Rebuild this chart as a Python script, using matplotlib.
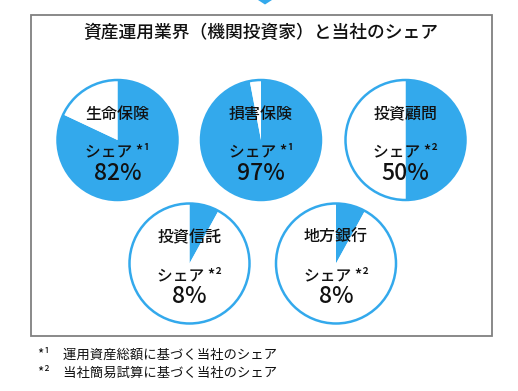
import numpy as np
import matplotlib.pyplot as plt
from matplotlib.patches import Rectangle, Circle, Polygon

plt.rcParams['font.family'] = ['Noto Sans CJK JP', 'DejaVu Sans']

# datos
categorias = ['生命保険', '損害保険', '投資顧問', '投資信託', '地方銀行']
shares = [82, 97, 50, 8, 8]
notas = ['¹', '¹', '²', '²', '²']
titulo = '資産運用業界（機関投資家）と当社のシェア'
pies_nota = ['*¹　運用資産総額に基づく当社のシェア',
             '*²　当社簡易試算に基づく当社のシェア']

W, H = 518, 391
azul = '#33a9ec'
negro = '#111111'

fig = plt.figure(figsize=(W / 100, H / 100), dpi=100)
ax = fig.add_axes([0, 0, 1, 1])

def py(y):
    # coordenada de pixel (desde arriba) a coordenada de datos
    return H - y

# centros de los circulos en pixeles
centros = [(117.5, 140), (261, 140), (405.5, 140), (189.5, 263.5), (336, 263.5)]
r = 60

# marco
ax.add_patch(Rectangle((31, py(336)), 461, 321, fill=False, edgecolor='#808080', lw=1.3))
# flecha de arriba
ax.add_patch(Polygon([(258, py(0)), (272, py(0)), (265, py(4.5))], closed=True,
                     facecolor=azul, edgecolor='none'))

ax.text(261, py(33), titulo, ha='center', va='center', fontsize=12.8, color=negro,
        fontweight='medium')

for cat, s, n, (cx, cy) in zip(categorias, shares, notas, centros):
    ax.pie([s, 100 - s], colors=[azul, 'white'], startangle=90, counterclock=False,
           center=(cx, py(cy)), radius=r, wedgeprops=dict(linewidth=0))
    ax.add_patch(Circle((cx, py(cy)), r, fill=False, edgecolor=azul, lw=1.8))
    ax.text(cx, py(cy - 26), cat, ha='center', va='center', fontsize=11.5, color=negro,
            fontweight='medium')
    ax.text(cx, py(cy + 12), 'シェア *' + n, ha='center', va='center', fontsize=11.3,
            color=negro, fontweight='medium')
    ax.text(cx, py(cy + 33), f'{s}%', ha='center', va='center', fontsize=16.5, color=negro,
            fontweight='medium')

ax.text(38, py(355), pies_nota[0], ha='left', va='center', fontsize=9.6, color=negro)
ax.text(38, py(373), pies_nota[1], ha='left', va='center', fontsize=9.6, color=negro)

ax.set_xlim(0, W)
ax.set_ylim(0, H)
ax.set_aspect('auto')
ax.axis('off')

plt.savefig('out.png', dpi=100)
